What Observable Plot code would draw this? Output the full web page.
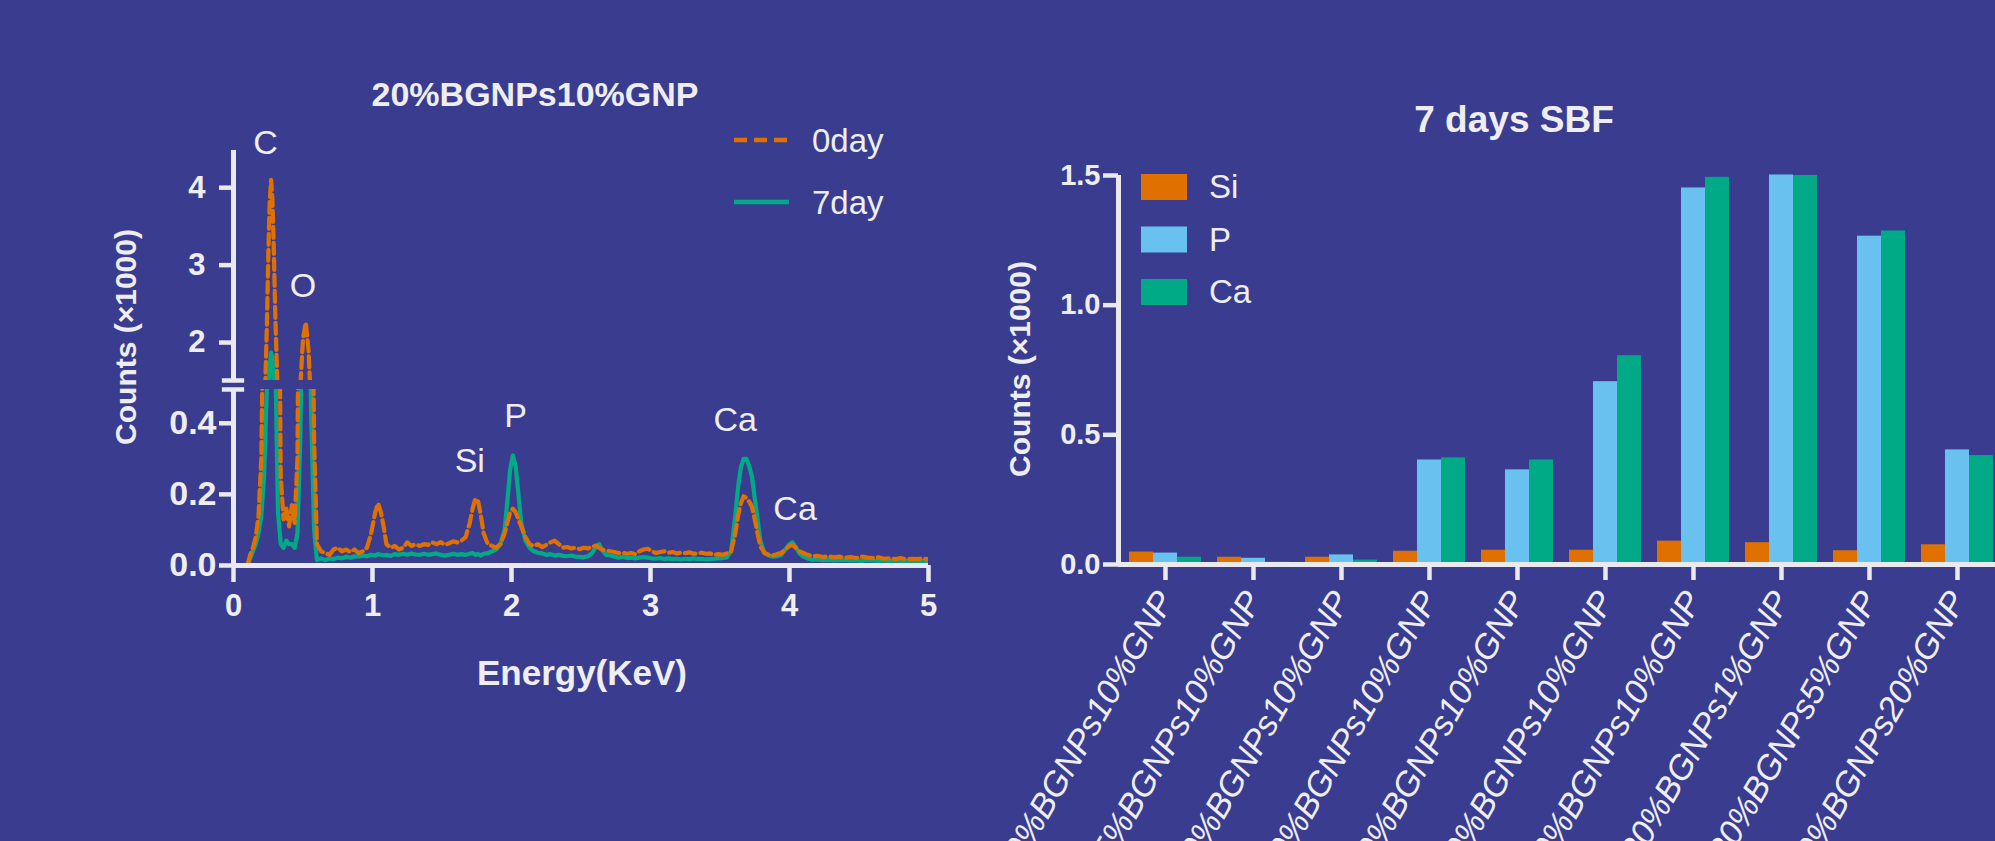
<!DOCTYPE html>
<html><head><meta charset="utf-8">
<script src="https://cdn.jsdelivr.net/npm/d3@7"></script>
<script src="https://cdn.jsdelivr.net/npm/@observablehq/plot@0.6"></script>
<style>
html,body{margin:0;padding:0;background:#3a3d8f;}
#root{position:relative;width:1995px;height:841px;overflow:hidden;background:#3a3d8f;}
#root svg{position:absolute;left:0;top:0;max-width:none !important;overflow:visible;}
</style></head><body><div id="root"></div>
<script>
// ---------- Left chart: EDS spectrum (counts ×1000) ----------
const energy = [
0, 0.02, 0.04, 0.06, 0.08, 0.10, 0.12, 0.14, 0.16, 0.18,
0.20, 0.22, 0.24, 0.25, 0.26, 0.27, 0.28, 0.29, 0.30, 0.32,
0.34, 0.36, 0.38, 0.40, 0.42, 0.44, 0.46, 0.48, 0.50, 0.52,
0.54, 0.56, 0.58, 0.60, 0.63, 0.66, 0.69, 0.72, 0.75, 0.78,
0.81, 0.84, 0.87, 0.90, 0.93, 0.96, 0.99, 1.02, 1.04, 1.06,
1.08, 1.10, 1.13, 1.16, 1.19, 1.22, 1.25, 1.28, 1.31, 1.34,
1.37, 1.40, 1.43, 1.46, 1.49, 1.52, 1.55, 1.58, 1.61, 1.64,
1.67, 1.70, 1.72, 1.74, 1.76, 1.78, 1.80, 1.83, 1.86, 1.89,
1.92, 1.95, 1.97, 1.99, 2.01, 2.03, 2.05, 2.07, 2.10, 2.13,
2.16, 2.19, 2.22, 2.25, 2.28, 2.31, 2.34, 2.37, 2.40, 2.43,
2.46, 2.49, 2.52, 2.55, 2.58, 2.61, 2.63, 2.65, 2.68, 2.71,
2.74, 2.77, 2.80, 2.83, 2.86, 2.89, 2.92, 2.95, 2.98, 3.01,
3.04, 3.07, 3.10, 3.13, 3.16, 3.19, 3.22, 3.25, 3.28, 3.31,
3.34, 3.37, 3.40, 3.43, 3.46, 3.49, 3.52, 3.55, 3.58, 3.61,
3.63, 3.65, 3.67, 3.69, 3.71, 3.73, 3.75, 3.77, 3.79, 3.82,
3.85, 3.88, 3.91, 3.94, 3.97, 4.00, 4.02, 4.04, 4.07, 4.10,
4.13, 4.16, 4.20, 4.24, 4.28, 4.32, 4.36, 4.40, 4.44, 4.48,
4.52, 4.56, 4.60, 4.64, 4.68, 4.72, 4.76, 4.80, 4.84, 4.88,
4.92, 4.96, 5.00];
const day0 = [
0, 0, 0, 0, 0, 0.00, 0.03, 0.05, 0.08, 0.14,
0.30, 0.90, 2.20, 3.10, 3.80, 4.10, 3.85, 3.20, 2.40, 1.20,
0.25, 0.13, 0.16, 0.11, 0.17, 0.12, 0.30, 1.40, 2.05, 2.26,
1.90, 1.10, 0.35, 0.06, 0.04, 0.035, 0.03, 0.045, 0.05, 0.04,
0.045, 0.038, 0.045, 0.035, 0.04, 0.05, 0.09, 0.15, 0.175, 0.15,
0.11, 0.06, 0.05, 0.055, 0.045, 0.05, 0.065, 0.055, 0.06, 0.055,
0.06, 0.058, 0.065, 0.06, 0.066, 0.058, 0.062, 0.068, 0.065, 0.07,
0.08, 0.12, 0.16, 0.188, 0.18, 0.14, 0.09, 0.06, 0.055, 0.05,
0.06, 0.09, 0.12, 0.15, 0.16, 0.15, 0.13, 0.11, 0.08, 0.06,
0.055, 0.06, 0.052, 0.058, 0.065, 0.07, 0.06, 0.05, 0.052, 0.048,
0.05, 0.046, 0.05, 0.048, 0.052, 0.056, 0.05, 0.045, 0.042, 0.04,
0.038, 0.035, 0.036, 0.033, 0.035, 0.032, 0.04, 0.045, 0.047, 0.04,
0.035, 0.038, 0.04, 0.036, 0.038, 0.034, 0.036, 0.035, 0.037, 0.033,
0.034, 0.036, 0.033, 0.034, 0.03, 0.032, 0.03, 0.034, 0.04, 0.09,
0.14, 0.175, 0.195, 0.19, 0.18, 0.165, 0.13, 0.09, 0.055, 0.035,
0.03, 0.028, 0.032, 0.035, 0.045, 0.055, 0.058, 0.052, 0.04, 0.035,
0.03, 0.026, 0.027, 0.024, 0.026, 0.023, 0.025, 0.022, 0.024, 0.021,
0.025, 0.022, 0.021, 0.023, 0.019, 0.02, 0.018, 0.021, 0.017, 0.019,
0.018, 0.02, 0.017];
const day7 = [
null, null, null, null, null, 0.00, 0.02, 0.04, 0.06, 0.09,
0.14, 0.25, 0.50, 1.30, 1.70, 1.87, 1.80, 1.45, 0.60, 0.15,
0.06, 0.05, 0.07, 0.06, 0.06, 0.05, 0.09, 0.35, 0.85, 1.05,
0.85, 0.40, 0.10, 0.015, 0.02, 0.015, 0.02, 0.018, 0.022, 0.02,
0.025, 0.022, 0.026, 0.025, 0.028, 0.026, 0.03, 0.028, 0.032, 0.03,
0.028, 0.03, 0.027, 0.032, 0.03, 0.033, 0.03, 0.034, 0.031, 0.03,
0.033, 0.03, 0.032, 0.034, 0.03, 0.028, 0.03, 0.033, 0.03, 0.032,
0.03, 0.033, 0.035, 0.03, 0.032, 0.028, 0.033, 0.035, 0.04, 0.045,
0.06, 0.10, 0.18, 0.27, 0.31, 0.28, 0.20, 0.12, 0.07, 0.05,
0.04, 0.036, 0.034, 0.03, 0.032, 0.028, 0.03, 0.027, 0.026, 0.028,
0.025, 0.024, 0.023, 0.026, 0.035, 0.055, 0.06, 0.045, 0.03, 0.028,
0.025, 0.022, 0.024, 0.021, 0.022, 0.02, 0.022, 0.024, 0.022, 0.02,
0.019, 0.021, 0.018, 0.02, 0.018, 0.019, 0.017, 0.019, 0.018, 0.02,
0.018, 0.019, 0.017, 0.018, 0.019, 0.02, 0.021, 0.023, 0.04, 0.14,
0.22, 0.275, 0.30, 0.30, 0.28, 0.25, 0.19, 0.13, 0.07, 0.035,
0.028, 0.025, 0.026, 0.03, 0.045, 0.06, 0.065, 0.055, 0.035, 0.025,
0.02, 0.016, 0.017, 0.015, 0.016, 0.014, 0.015, 0.015, 0.014, 0.015,
0.013, 0.015, 0.014, 0.013, 0.014, 0.012, 0.014, 0.013, 0.012, 0.013,
0.012, 0.013, 0.012];
const seriesNames = ["0day", "7day"];
const seriesColors = ["#e07000", "#00aa87"];
const upperTicks = [2, 3, 4];
const lowerTicks = [0, 0.2, 0.4];
const energyTicks = [0, 1, 2, 3, 4, 5];
const peakLabels = ["C", "O", "Si", "P", "Ca", "Ca"];
const peakEnergy = [0.23, 0.50, 1.70, 2.03, 3.61, 4.04];
const peakCounts = [4.57, 2.73, 0.293, 0.42, 0.41, 0.16];
const peakPanel = ["upper", "upper", "lower", "lower", "lower", "lower"];

// ---------- Right chart: 7 days SBF ----------
const samples = ["0%BGNPs10%GNP", "5%BGNPs10%GNP", "10%BGNPs10%GNP", "20%BGNPs10%GNP",
  "30%BGNPs10%GNP", "40%BGNPs10%GNP", "50%BGNPs10%GNP", "20%BGNPs1%GNP",
  "20%BGNPs5%GNP", "20%BGNPs20%GNP"];
const elements = ["Si", "P", "Ca"];
const elementColors = ["#e07000", "#68c1ee", "#00aa87"];
const siCounts = [0.048, 0.028, 0.028, 0.051, 0.055, 0.055, 0.090, 0.084, 0.053, 0.076];
const pCounts  = [0.044, 0.024, 0.037, 0.403, 0.365, 0.705, 1.452, 1.502, 1.266, 0.442];
const caCounts = [0.028, 0.009, 0.017, 0.411, 0.403, 0.805, 1.493, 1.500, 1.286, 0.420];
const countTicks = [0, 0.5, 1.0, 1.5];

// ---------- drawing ----------
const AX = "#e9e9ee";
const SANS = "'Liberation Sans', Arial, Helvetica, sans-serif";
const baseStyle = {background: "transparent", color: "#eeeef2", fontFamily: SANS, overflow: "visible"};
const root = document.getElementById("root");

const spec0 = energy.map((e, i) => ({energy: e, counts: day0[i]})).filter(d => d.counts != null);
const spec7 = energy.map((e, i) => ({energy: e, counts: day7[i]})).filter(d => d.counts != null);
const peaks = peakLabels.map((t, i) => ({label: t, energy: peakEnergy[i], counts: peakCounts[i], panel: peakPanel[i]}));

const lineMarks = () => [
  Plot.line(spec7, {x: "energy", y: "counts", stroke: seriesColors[1], strokeWidth: 4.2, clip: true}),
  Plot.line(spec0, {x: "energy", y: "counts", stroke: seriesColors[0], strokeWidth: 4.2, strokeDasharray: "11,5", clip: true})
];
const peakText = (panel) => Plot.text(peaks.filter(d => d.panel === panel),
  {x: "energy", y: "counts", text: "label", fontSize: 34, fontWeight: "normal"});

const upperY = [1.51, 4.48];
const lowerY = [0, 0.495];

const upper = Plot.plot({
  width: 1000, height: 400, marginLeft: 233, marginRight: 72, marginTop: 150, marginBottom: 20,
  style: baseStyle,
  x: {domain: [0, 5], axis: null},
  y: {domain: upperY},
  marks: [
    ...lineMarks(),
    Plot.ruleX([0], {stroke: AX, strokeWidth: 5}),
    Plot.ruleY([upperY[0]], {x1: -0.08, x2: 0.08, stroke: AX, strokeWidth: 4.5}),
    Plot.axisY(upperTicks, {tickSize: 14, tickPadding: 14, tickFormat: d => String(d), fontSize: 31, fontWeight: "bold", stroke: AX, strokeWidth: 4.5, label: null}),
    peakText("upper")
  ]
});

const lower = Plot.plot({
  width: 1000, height: 841, marginLeft: 233, marginRight: 72, marginTop: 389, marginBottom: 276,
  style: baseStyle,
  x: {domain: [0, 5]},
  y: {domain: lowerY},
  marks: [
    ...lineMarks(),
    Plot.ruleY([0], {stroke: AX, strokeWidth: 5}),
    Plot.ruleX([0], {stroke: AX, strokeWidth: 5}),
    Plot.ruleY([lowerY[1]], {x1: -0.08, x2: 0.08, stroke: AX, strokeWidth: 4.5}),
    Plot.axisY(lowerTicks, {tickSize: 14, tickPadding: 3, tickFormat: d3.format(".1f"), fontSize: 34, fontWeight: "bold", stroke: AX, strokeWidth: 4.5, label: null}),
    Plot.axisX(energyTicks, {tickSize: 17, tickPadding: 11, tickFormat: d => String(d), fontSize: 31, fontWeight: "bold", stroke: AX, strokeWidth: 4.5, label: null}),
    peakText("lower")
  ]
});

const barRows = samples.flatMap((s, i) => elements.map((el, j) => ({
  sample: s, element: el, counts: [siCounts, pCounts, caCounts][j][i]
})));

const bars = Plot.plot({
  width: 2010, height: 841, marginLeft: 1118, marginRight: 6, marginTop: 175, marginBottom: 277,
  style: baseStyle,
  fx: {domain: samples, paddingInner: 0.186, paddingOuter: 0.1, label: null},
  x: {domain: elements, padding: 0, axis: null},
  y: {domain: [0, 1.5], axis: null},
  color: {domain: elements, range: elementColors},
  marks: [
    Plot.barY(barRows, {fx: "sample", x: "element", y: "counts", fill: "element"}),
    Plot.axisFx({anchor: "bottom", tickSize: 16, tickPadding: 14, tickRotate: -60, fontSize: 34,
      fontWeight: "normal", fontStyle: "italic", stroke: AX, strokeWidth: 4.5, label: null})
  ]
});

const barAxes = Plot.plot({
  width: 2010, height: 841, marginLeft: 1118, marginRight: 6, marginTop: 175, marginBottom: 277,
  style: baseStyle,
  x: {domain: [0, 1], axis: null},
  y: {domain: [0, 1.5]},
  marks: [
    Plot.ruleY([0], {stroke: AX, strokeWidth: 5}),
    Plot.ruleX([0], {stroke: AX, strokeWidth: 5}),
    Plot.axisY(countTicks, {tickSize: 15, tickPadding: 3, tickFormat: d3.format(".1f"), fontSize: 29, fontWeight: "bold", stroke: AX, strokeWidth: 4.5, label: null})
  ]
});

[upper, lower, bars, barAxes].forEach(p => root.appendChild(p));

// titles, axis titles and legends
const ov = d3.select(root).append("svg").attr("width", 1995).attr("height", 841)
  .style("font-family", SANS).style("fill", "#eeeef2");
const title = (t, x, y, size, rot) => ov.append("text").attr("text-anchor", "middle")
  .attr("transform", `translate(${x},${y}) rotate(${rot || 0})`)
  .attr("font-size", size).attr("font-weight", "bold").text(t);
title("20%BGNPs10%GNP", 535, 106, 34);
title("7 days SBF", 1514, 132, 37);
title("Energy(KeV)", 582, 685, 35);
title("Counts (\u00d71000)", 136, 337, 30, -90);
title("Counts (\u00d71000)", 1030, 369, 30, -90);

seriesNames.forEach((name, i) => {
  const y = 140 + i * 62;
  ov.append("line").attr("x1", 734).attr("x2", 789).attr("y1", y).attr("y2", y)
    .attr("stroke", seriesColors[i]).attr("stroke-width", 4.5)
    .attr("stroke-dasharray", i === 0 ? "13,7" : null);
  ov.append("text").attr("x", 812).attr("y", y + 12).attr("font-size", 33).text(name);
});
elements.forEach((el, i) => {
  const y = 174 + i * 52.5;
  ov.append("rect").attr("x", 1141).attr("y", y).attr("width", 46).attr("height", 26).attr("fill", elementColors[i]);
  ov.append("text").attr("x", 1209).attr("y", y + 24).attr("font-size", 33).text(el);
});
</script></body></html>
